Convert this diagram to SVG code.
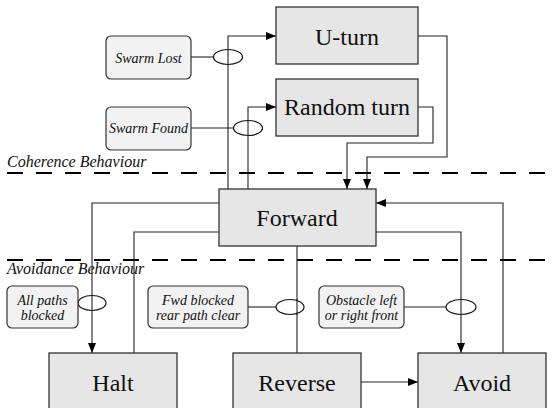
<svg xmlns="http://www.w3.org/2000/svg" width="555" height="408" viewBox="0 0 555 408">
  <style>
    text { font-family: "Liberation Serif", "DejaVu Serif", serif; fill: #111; }
    .state { fill: #e6e6e6; stroke: #333; stroke-width: 1.3; }
    .cond { fill: #f2f2f2; stroke: #333; stroke-width: 1.2; }
    .big { font-size: 24px; text-anchor: middle; }
    .small { font-size: 14px; font-style: italic; text-anchor: middle; }
    .layer { font-size: 16px; font-style: italic; }
    .dash { stroke: #000; stroke-width: 2; stroke-dasharray: 16 13; fill: none; }
    .wire { fill: none; stroke: #222; stroke-width: 1.1; }
    .gate { fill: #fff; stroke: #111; stroke-width: 1.2; }
  </style>
  <defs>
    <marker id="arrow" viewBox="0 0 10 8" refX="10" refY="4" markerWidth="10" markerHeight="8" markerUnits="userSpaceOnUse" orient="auto">
      <path d="M0,0 L10,4 L0,8 Z" fill="#000"/>
    </marker>
  </defs>

  <rect width="555" height="408" fill="#fff"/>

  <!-- layer separators -->
  <g id="layers">
    <line class="dash" x1="7" y1="173" x2="555" y2="173"/>
    <line class="dash" x1="7" y1="260" x2="555" y2="260"/>
    <text class="layer" x="7" y="167" font-family="Liberation Serif, serif">Coherence Behaviour</text>
    <text class="layer" x="7" y="274" font-family="Liberation Serif, serif">Avoidance Behaviour</text>
  </g>

  <!-- connectors -->
  <g id="connectors">
    <!-- Forward -> U-turn -->
    <path class="wire" d="M228,189 V36 H276" marker-end="url(#arrow)"/>
    <!-- Forward -> Random turn -->
    <path class="wire" d="M248,189 V107 H276" marker-end="url(#arrow)"/>
    <!-- U-turn -> Forward -->
    <path class="wire" d="M418,36 H447 V157 H367 V189" marker-end="url(#arrow)"/>
    <!-- Random turn -> Forward -->
    <path class="wire" d="M418,107 H433 V143 H347 V189" marker-end="url(#arrow)"/>
    <!-- Forward -> Halt -->
    <path class="wire" d="M219,203 H92 V353" marker-end="url(#arrow)"/>
    <!-- Halt -> Forward -->
    <path class="wire" d="M134,353 V232 H219"/>
    <!-- Forward -> Reverse -->
    <path class="wire" d="M297,246 V353"/>
    <!-- Forward -> Avoid -->
    <path class="wire" d="M376,232 H461 V353" marker-end="url(#arrow)"/>
    <!-- Avoid -> Forward -->
    <path class="wire" d="M503,353 V203 H376" marker-end="url(#arrow)"/>
    <!-- Reverse -> Avoid -->
    <path class="wire" d="M361,382 H418" marker-end="url(#arrow)"/>
    <!-- condition links -->
    <line class="wire" x1="191" y1="57" x2="214" y2="57"/>
    <line class="wire" x1="191" y1="128" x2="234" y2="128"/>
    <line class="wire" x1="248" y1="307" x2="276" y2="307"/>
    <line class="wire" x1="404" y1="307" x2="446" y2="307"/>
    <!-- gates -->
    <ellipse class="gate" cx="228" cy="57" rx="14.5" ry="7.5"/>
    <ellipse class="gate" cx="248" cy="128" rx="14.5" ry="7.5"/>
    <ellipse class="gate" cx="92" cy="303" rx="14" ry="7.5"/>
    <ellipse class="gate" cx="290" cy="307" rx="14" ry="7.5"/>
    <ellipse class="gate" cx="461" cy="307" rx="15" ry="7.5"/>
    <line class="wire" x1="228" y1="49" x2="228" y2="65"/>
    <line class="wire" x1="248" y1="120" x2="248" y2="136"/>
    <line class="wire" x1="92" y1="295" x2="92" y2="311"/>
    <line class="wire" x1="297" y1="299" x2="297" y2="315"/>
    <line class="wire" x1="461" y1="299" x2="461" y2="315"/>
  </g>

  <!-- state nodes -->
  <g id="uturn">
    <rect class="state" x="276" y="7" width="142" height="57"/>
    <text class="big" x="347" y="45">U-turn</text>
  </g>
  <g id="randomturn">
    <rect class="state" x="276" y="79" width="142" height="57"/>
    <text class="big" x="347" y="115">Random turn</text>
  </g>
  <g id="forward">
    <rect class="state" x="219" y="189" width="157" height="57"/>
    <text class="big" x="297" y="226">Forward</text>
  </g>
  <g id="halt">
    <rect class="state" x="49" y="353" width="128" height="60"/>
    <text class="big" x="113" y="391">Halt</text>
  </g>
  <g id="reverse">
    <rect class="state" x="233" y="353" width="128" height="60"/>
    <text class="big" x="297" y="391">Reverse</text>
  </g>
  <g id="avoid">
    <rect class="state" x="418" y="353" width="128" height="60"/>
    <text class="big" x="482" y="391">Avoid</text>
  </g>

  <!-- condition nodes -->
  <g id="swarmlost">
    <rect class="cond" x="106" y="36" width="85" height="43" rx="5"/>
    <text class="small" x="148.5" y="63">Swarm Lost</text>
  </g>
  <g id="swarmfound">
    <rect class="cond" x="106" y="107" width="85" height="43" rx="5"/>
    <text class="small" x="148.5" y="133">Swarm Found</text>
  </g>
  <g id="allpaths">
    <rect class="cond" x="7" y="286" width="71" height="42" rx="5"/>
    <text class="small" x="42.5" y="305">All paths</text>
    <text class="small" x="42.5" y="320">blocked</text>
  </g>
  <g id="fwdblocked">
    <rect class="cond" x="148" y="286" width="100" height="42" rx="5"/>
    <text class="small" x="198" y="305">Fwd blocked</text>
    <text class="small" x="198" y="320">rear path clear</text>
  </g>
  <g id="obstacle">
    <rect class="cond" x="319" y="286" width="85" height="42" rx="5"/>
    <text class="small" x="361.5" y="305">Obstacle left</text>
    <text class="small" x="361.5" y="320">or right front</text>
  </g>
</svg>
